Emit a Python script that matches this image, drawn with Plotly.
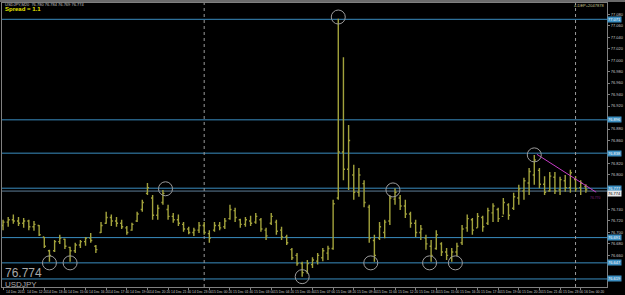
import plotly.graph_objects as go
import pandas as pd

symbol = "USDJPY"
start_time = "2011-12-14 11:00"
bar_minutes = 20

bar_open = [76.712, 76.718, 76.722, 76.720, 76.716, 76.720, 76.710, 76.712, 76.692, 76.668,
            76.668, 76.684, 76.688, 76.674, 76.668, 76.678, 76.684, 76.690, 76.676, 76.700,
            76.716, 76.726, 76.720, 76.716, 76.708, 76.704, 76.720, 76.740, 76.768, 76.760,
            76.730, 76.752, 76.740, 76.728, 76.722, 76.714, 76.706, 76.700, 76.704, 76.712,
            76.698, 76.704, 76.712, 76.710, 76.724, 76.738, 76.722, 76.714, 76.720, 76.718,
            76.722, 76.704, 76.716, 76.718, 76.704, 76.692, 76.670, 76.660, 76.646, 76.632,
            76.644, 76.650, 76.656, 76.664, 76.672, 76.760, 76.840, 76.810, 76.800, 76.770,
            76.785, 76.744, 76.686, 76.690, 76.700, 76.720, 76.758, 76.760, 76.746, 76.732,
            76.716, 76.700, 76.690, 76.676, 76.672, 76.680, 76.666, 76.656, 76.666, 76.682,
            76.708, 76.722, 76.708, 76.726, 76.716, 76.734, 76.740, 76.728, 76.748, 76.742,
            76.760, 76.772, 76.786, 76.800, 76.808, 76.784, 76.772, 76.796, 76.774, 76.790,
            76.778, 76.792, 76.778, 76.780]
bar_high = [76.722, 76.727, 76.731, 76.727, 76.725, 76.722, 76.720, 76.713, 76.692, 76.670,
            76.687, 76.696, 76.689, 76.675, 76.682, 76.687, 76.692, 76.699, 76.678, 76.718,
            76.736, 76.731, 76.727, 76.722, 76.711, 76.717, 76.736, 76.757, 76.786, 76.765,
            76.748, 76.774, 76.748, 76.734, 76.731, 76.718, 76.710, 76.708, 76.718, 76.718,
            76.704, 76.718, 76.718, 76.725, 76.748, 76.743, 76.724, 76.727, 76.729, 76.734,
            76.725, 76.708, 76.734, 76.722, 76.710, 76.696, 76.673, 76.664, 76.649, 76.652,
            76.657, 76.664, 76.673, 76.677, 76.757, 77.072, 77.005, 76.887, 76.818, 76.812,
            76.791, 76.748, 76.696, 76.718, 76.722, 76.765, 76.777, 76.765, 76.757, 76.736,
            76.722, 76.713, 76.696, 76.687, 76.704, 76.683, 76.673, 76.673, 76.682, 76.713,
            76.731, 76.725, 76.734, 76.729, 76.743, 76.751, 76.743, 76.760, 76.751, 76.769,
            76.783, 76.795, 76.812, 76.835, 76.812, 76.798, 76.805, 76.805, 76.797, 76.800,
            76.809, 76.798, 76.791, 76.784]
bar_low = [76.704, 76.710, 76.715, 76.711, 76.708, 76.704, 76.703, 76.694, 76.673, 76.649,
           76.666, 76.680, 76.671, 76.649, 76.664, 76.673, 76.677, 76.682, 76.664, 76.699,
           76.715, 76.711, 76.710, 76.706, 76.696, 76.703, 76.718, 76.736, 76.765, 76.722,
           76.722, 76.748, 76.722, 76.717, 76.711, 76.701, 76.697, 76.694, 76.699, 76.696,
           76.682, 76.701, 76.704, 76.706, 76.722, 76.718, 76.708, 76.710, 76.711, 76.715,
           76.701, 76.687, 76.713, 76.696, 76.687, 76.678, 76.652, 76.642, 76.623, 76.628,
           76.638, 76.644, 76.650, 76.652, 76.670, 76.757, 76.791, 76.774, 76.757, 76.762,
           76.744, 76.682, 76.649, 76.687, 76.690, 76.713, 76.748, 76.739, 76.725, 76.708,
           76.692, 76.687, 76.670, 76.649, 76.670, 76.659, 76.652, 76.649, 76.659, 76.678,
           76.701, 76.696, 76.708, 76.701, 76.713, 76.718, 76.718, 76.731, 76.722, 76.739,
           76.748, 76.757, 76.765, 76.783, 76.777, 76.765, 76.771, 76.767, 76.765, 76.771,
           76.769, 76.771, 76.765, 76.769]
bar_close = [76.718, 76.722, 76.720, 76.716, 76.720, 76.710, 76.714, 76.696, 76.676, 76.660,
             76.684, 76.690, 76.676, 76.668, 76.678, 76.684, 76.690, 76.686, 76.670, 76.712,
             76.726, 76.720, 76.716, 76.710, 76.700, 76.714, 76.732, 76.752, 76.778, 76.730,
             76.742, 76.768, 76.728, 76.722, 76.716, 76.706, 76.700, 76.704, 76.712, 76.700,
             76.690, 76.712, 76.708, 76.720, 76.740, 76.726, 76.714, 76.722, 76.716, 76.728,
             76.706, 76.694, 76.728, 76.702, 76.692, 76.682, 76.656, 76.646, 76.630, 76.646,
             76.652, 76.660, 76.668, 76.672, 76.750, 76.840, 76.810, 76.860, 76.770, 76.800,
             76.752, 76.690, 76.660, 76.710, 76.718, 76.760, 76.770, 76.746, 76.732, 76.716,
             76.700, 76.706, 76.680, 76.660, 76.696, 76.666, 76.660, 76.666, 76.676, 76.706,
             76.724, 76.704, 76.728, 76.710, 76.738, 76.746, 76.724, 76.752, 76.730, 76.762,
             76.776, 76.790, 76.806, 76.826, 76.784, 76.770, 76.798, 76.772, 76.792, 76.778,
             76.804, 76.776, 76.786, 76.774]

level_prices = [77.071, 76.896, 76.838, 76.777, 76.691, 76.647, 76.619]
bid_price = 76.774
# axis ticks that are not hidden behind the level price boxes
y_ticks = [76.66, 76.68, 76.70, 76.72, 76.74, 76.80, 76.82, 76.86, 76.88,
           76.92, 76.94, 76.96, 76.98, 77.00, 77.02, 77.04, 77.06, 77.08]
circle_bars = [9, 13, 31.5, 58, 65, 71.3, 75.6, 82.7, 87.7, 103]
circle_prices = [76.647, 76.647, 76.776, 76.623, 77.075, 76.647, 76.774, 76.647, 76.647, 76.835]
trend_times = ["2011-12-15 21:30", "2011-12-16 01:20"]
trend_prices = [76.836, 76.770]
separator_times = ["2011-12-15 00:00", "2011-12-16 00:00"]
x_range = ["2011-12-14 10:56", "2011-12-16 02:02"]
y_range = [76.605, 77.0994]

bar_col = "#a2a23c"
level_col = "#3a8dc0"
FONT = "Liberation Sans"

times = pd.date_range(start_time, periods=len(bar_close), freq=f"{bar_minutes}min")
label_times = list(times[::4])
label_text = [t.strftime("%d %b %Y") if i == 0 else t.strftime("%d %b %H:%M")
              for i, t in enumerate(label_times)]
t0 = pd.Timestamp(start_time)
circle_times = [t0 + pd.Timedelta(minutes=bar_minutes * b) for b in circle_bars]

fig = go.Figure()
fig.add_trace(go.Ohlc(x=times, open=bar_open, high=bar_high, low=bar_low, close=bar_close,
                      increasing_line_color=bar_col, decreasing_line_color=bar_col,
                      line_width=1.4, tickwidth=0.3, hoverinfo="skip"))
fig.add_trace(go.Scatter(x=trend_times, y=trend_prices, mode="lines",
                         line=dict(color="#c83cc8", width=1), hoverinfo="skip"))

shapes = []
for p in level_prices:
    shapes.append(dict(type="line", xref="paper", x0=0, x1=1, yref="y", y0=p, y1=p,
                       line=dict(color=level_col, width=1), layer="below"))
shapes.append(dict(type="line", xref="paper", x0=0, x1=1, yref="y", y0=bid_price - 0.002,
                   y1=bid_price - 0.002, line=dict(color="#5f7f98", width=1), layer="below"))
for st in separator_times:
    shapes.append(dict(type="line", xref="x", x0=st, x1=st, yref="paper", y0=0, y1=1,
                       line=dict(color="#9a9a9a", width=1, dash="dot"), layer="below"))
for ct, cp in zip(circle_times, circle_prices):
    shapes.append(dict(type="circle", xref="x", yref="y", xsizemode="pixel", ysizemode="pixel",
                       xanchor=ct, yanchor=cp, x0=-7, x1=7, y0=-7, y1=7,
                       line=dict(color="#9c9c9c", width=1)))
shapes.append(dict(type="rect", xref="paper", yref="paper", x0=-0.01, x1=1.03,
                   y0=1.0035, y1=1.012, fillcolor="#6a6a6a", line=dict(width=0)))

ann = []
for p in level_prices:
    ann.append(dict(xref="paper", x=1, xanchor="left", yref="y", y=p, yanchor="middle",
                    text=f"{p:.3f}", showarrow=False, bgcolor=level_col, borderpad=0,
                    font=dict(size=4, color="#ffffff", family=FONT)))
ann.append(dict(xref="paper", x=1, xanchor="left", yref="y", y=bid_price, yanchor="middle",
                yshift=-4, text=f"{bid_price:.3f}", showarrow=False, bgcolor="#e8e8e8",
                borderpad=0, font=dict(size=4, color="#000000", family=FONT)))
for t, s in zip(label_times, label_text):
    ann.append(dict(xref="x", x=t, xanchor="left", xshift=1, yref="paper", y=0,
                    yanchor="top", yshift=-1, text=s, showarrow=False,
                    font=dict(size=3.4, color="#c8c8c8", family=FONT)))
ann += [
    dict(xref="paper", x=0, xanchor="left", xshift=1, yref="paper", y=1, yanchor="middle",
         yshift=-1, text=f"{symbol},M20  76.780 76.784 76.769 76.774", showarrow=False,
         font=dict(size=4, color="#c0c0c0", family=FONT)),
    dict(xref="paper", x=0, xanchor="left", xshift=1, yref="paper", y=1, yanchor="middle",
         yshift=-6, text="<b>Spread = 1.1</b>", showarrow=False,
         font=dict(size=6, color="#e6e600", family=FONT)),
    dict(xref="paper", x=1, xanchor="right", xshift=-1, yref="paper", y=1, yanchor="middle",
         yshift=-2, text="4-DEP+2047878", showarrow=False,
         font=dict(size=4, color="#c8c890", family=FONT)),
    dict(xref="paper", x=0, xanchor="left", xshift=1, yref="paper", y=0, yanchor="middle",
         yshift=14, text=f"{bid_price:.3f}", showarrow=False,
         font=dict(size=12, color="#a8a8a8", family=FONT)),
    dict(xref="paper", x=0, xanchor="left", xshift=1, yref="paper", y=0, yanchor="middle",
         yshift=3, text=symbol, showarrow=False,
         font=dict(size=8, color="#a8a8a8", family=FONT)),
    dict(xref="x", x=trend_times[1], xanchor="right", xshift=6, yref="y", y=trend_prices[1],
         yanchor="top", yshift=-2, text="76.770", showarrow=False,
         font=dict(size=3.4, color="#802080", family=FONT)),
]

fig.update_layout(
    width=625, height=295, margin=dict(l=1, r=14, t=3, b=8),
    paper_bgcolor="#000000", plot_bgcolor="#000000", showlegend=False,
    shapes=shapes, annotations=ann,
    xaxis=dict(type="date", range=x_range, rangeslider=dict(visible=False),
               showgrid=False, zeroline=False, showline=True, linecolor="#808080",
               mirror=True, tickvals=label_times, ticks="outside", ticklen=2,
               tickcolor="#808080", showticklabels=False),
    yaxis=dict(side="right", range=y_range, showgrid=False, zeroline=False,
               showline=True, linecolor="#808080", mirror=True,
               tickvals=y_ticks, ticktext=[f"{v:.3f}" for v in y_ticks],
               ticks="outside", ticklen=2, tickcolor="#808080",
               tickfont=dict(size=4, color="#c8c8c8", family=FONT)),
)
fig.write_html("out.html")
